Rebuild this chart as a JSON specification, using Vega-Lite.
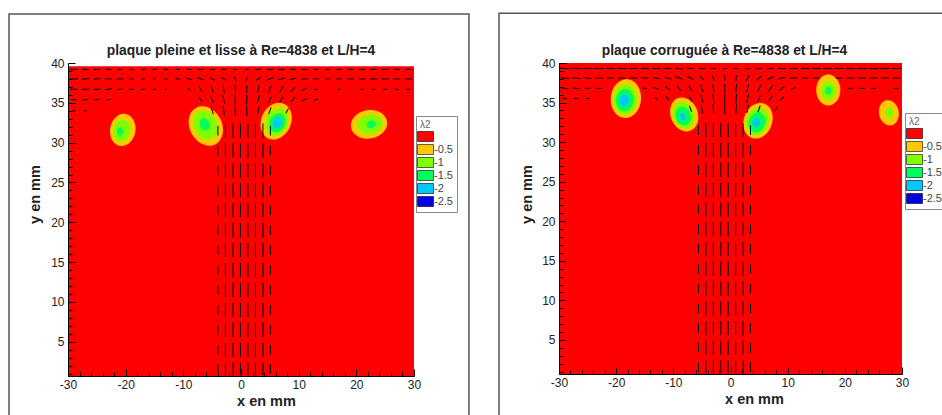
{
  "$schema": "https://vega.github.io/schema/vega-lite/v6.json",
  "padding": {"left": 8, "top": 12, "right": 0, "bottom": 0},
  "spacing": 28,
  "background": "#ffffff",
  "config": {
    "view": {"stroke": null},
    "axis": {"zindex": 2, "domainColor": "#000", "domainWidth": 1, "tickColor": "#000", "tickWidth": 1, "labelFont": "Liberation Sans", "labelFontSize": 12, "labelColor": "#222", "titleFont": "Liberation Sans", "titleFontSize": 14.5, "titleFontWeight": "bold", "titleColor": "#222", "grid": false, "labelOverlap": false, "labelFlush": false},
    "title": {"font": "Liberation Sans", "fontSize": 13.8, "fontWeight": "bold", "color": "#222", "anchor": "middle", "offset": -45, "baseline": "alphabetic"},
    "legend": {"symbolType": "M-1.6,-1H1.6V1H-1.6Z", "symbolSize": 100, "symbolStrokeColor": "#000", "symbolStrokeWidth": 0.6, "rowPadding": 0, "labelFont": "Liberation Sans", "labelFontSize": 11, "labelColor": "#444", "labelOffset": 3, "titleFont": "Liberation Sans", "titleFontSize": 10, "titleFontWeight": "normal", "titleColor": "#666", "titlePadding": 1, "padding": 4, "strokeColor": "#888", "fillColor": "#ffffff"}
  },
  "resolve": {"scale": {"color": "independent"}, "legend": {"color": "independent"}},
  "datasets": {
    "f1": [{"x": -40.23, "x2": 39.53, "y": -10, "y2": 46.16}],
    "f2": [{"x": -40.5, "x2": 55, "y": -10, "y2": 46.28}],
    "g1": [{"x": -30, "x2": 30, "y": 0.7, "y2": 39.6, "lv": "0"}],
    "g2": [{"x": -30, "x2": 30, "y": 0.7, "y2": 40, "lv": "0"}],
    "b1": [
      {"x": -20.5, "y": 31.6, "lv": "-0.5", "h": 4.1, "a": 10},
      {"x": -20.7, "y": 31.5, "lv": "-1", "h": 2.8, "a": 10},
      {"x": -21, "y": 31.4, "lv": "-1.5", "h": 1.0, "a": 0},
      {"x": -6.1, "y": 32.1, "lv": "-0.5", "h": 5.2, "a": -28},
      {"x": -6.2, "y": 32.2, "lv": "-1", "h": 3.8, "a": -28},
      {"x": -6.3, "y": 32.3, "lv": "-1.5", "h": 1.6, "a": -28},
      {"x": 6.1, "y": 32.7, "lv": "-0.5", "h": 4.8, "a": 25},
      {"x": 6.2, "y": 32.6, "lv": "-1", "h": 3.6, "a": 25},
      {"x": 6.3, "y": 32.5, "lv": "-1.5", "h": 2.5, "a": 25},
      {"x": 6.3, "y": 32.5, "lv": "-2", "h": 1.4, "a": 25},
      {"x": 22.2, "y": 32.3, "lv": "-0.5", "h": 4.6, "a": 80},
      {"x": 22.4, "y": 32.3, "lv": "-1", "h": 3.2, "a": 80},
      {"x": 22.6, "y": 32.3, "lv": "-1.5", "h": 1.2, "a": 80}
    ],
    "b2": [
      {"x": -18.3, "y": 35.5, "lv": "-0.5", "h": 4.9, "a": 5},
      {"x": -18.4, "y": 35.4, "lv": "-1", "h": 3.8, "a": 5},
      {"x": -18.5, "y": 35.3, "lv": "-1.5", "h": 2.8, "a": 5},
      {"x": -18.6, "y": 35.3, "lv": "-2", "h": 1.5, "a": 5},
      {"x": -8.1, "y": 33.5, "lv": "-0.5", "h": 4.4, "a": -20},
      {"x": -8.2, "y": 33.4, "lv": "-1", "h": 3.4, "a": -20},
      {"x": -8.3, "y": 33.3, "lv": "-1.5", "h": 2.4, "a": -20},
      {"x": -8.4, "y": 33.2, "lv": "-2", "h": 1.0, "a": -20},
      {"x": 4.8, "y": 32.7, "lv": "-0.5", "h": 4.6, "a": 20},
      {"x": 4.7, "y": 32.6, "lv": "-1", "h": 3.6, "a": 20},
      {"x": 4.6, "y": 32.5, "lv": "-1.5", "h": 2.6, "a": 20},
      {"x": 4.5, "y": 32.5, "lv": "-2", "h": 1.2, "a": 20},
      {"x": 17.1, "y": 36.6, "lv": "-0.5", "h": 3.9, "a": 0},
      {"x": 17.1, "y": 36.5, "lv": "-1", "h": 2.4, "a": 0},
      {"x": 17.1, "y": 36.5, "lv": "-1.5", "h": 1.0, "a": 0},
      {"x": 27.7, "y": 33.7, "lv": "-0.5", "h": 3.2, "a": -10},
      {"x": 27.8, "y": 33.7, "lv": "-1", "h": 1.4, "a": -10}
    ],
    "v1": [
      {"x": -29, "y": 39.2, "a": 0, "m": 0.9}, {"x": -27, "y": 39.2, "a": 0, "m": 0.9}, {"x": -25, "y": 39.2, "a": -5, "m": 0.8}, {"x": -23, "y": 39.2, "a": 0, "m": 0.8}, {"x": -21, "y": 39.2, "a": 0, "m": 0.6}, {"x": -19, "y": 39.2, "a": 0, "m": 0.5}, {"x": -17, "y": 39.2, "a": 0, "m": 0.5}, {"x": -15, "y": 39.2, "a": 0, "m": 0.6}, {"x": -13, "y": 39.2, "a": 5, "m": 0.6}, {"x": -11, "y": 39.2, "a": 0, "m": 0.5}, {"x": -9, "y": 39.2, "a": 5, "m": 0.6}, {"x": -7, "y": 39.2, "a": 5, "m": 0.7}, {"x": -5, "y": 39.2, "a": 0, "m": 0.7}, {"x": -3, "y": 39.2, "a": 0, "m": 0.6}, {"x": -1, "y": 39.2, "a": 0, "m": 0.5},
      {"x": 1, "y": 39.2, "a": 0, "m": 0.5}, {"x": 3, "y": 39.2, "a": -5, "m": 0.7}, {"x": 5, "y": 39.2, "a": -5, "m": 0.8}, {"x": 7, "y": 39.2, "a": 0, "m": 0.8}, {"x": 9, "y": 39.2, "a": 0, "m": 0.8}, {"x": 11, "y": 39.2, "a": 0, "m": 0.7}, {"x": 13, "y": 39.2, "a": 0, "m": 0.6}, {"x": 15, "y": 39.2, "a": 0, "m": 0.6}, {"x": 17, "y": 39.2, "a": 0, "m": 0.7}, {"x": 19, "y": 39.2, "a": 0, "m": 0.7}, {"x": 21, "y": 39.2, "a": 0, "m": 0.8}, {"x": 23, "y": 39.2, "a": 0, "m": 0.8}, {"x": 25, "y": 39.2, "a": 0, "m": 0.8}, {"x": 27, "y": 39.2, "a": 0, "m": 0.8}, {"x": 29, "y": 39.2, "a": 0, "m": 0.8},
      {"x": -29, "y": 38.0, "a": 0, "m": 1.0}, {"x": -27, "y": 38.0, "a": -5, "m": 1.0}, {"x": -25, "y": 38.0, "a": -5, "m": 0.9}, {"x": -23, "y": 38.0, "a": 0, "m": 0.9}, {"x": -21, "y": 38.0, "a": 0, "m": 0.8}, {"x": -19, "y": 38.0, "a": 0, "m": 0.5}, {"x": -17, "y": 38.0, "a": 0, "m": 0.4}, {"x": -15, "y": 38.0, "a": 0, "m": 0.4}, {"x": -13, "y": 38.0, "a": 0, "m": 0.5}, {"x": -11, "y": 38.0, "a": 10, "m": 0.6}, {"x": -9, "y": 38.0, "a": 15, "m": 0.7}, {"x": -7, "y": 38.0, "a": 20, "m": 0.8}, {"x": -5, "y": 38.0, "a": 25, "m": 0.8}, {"x": -3, "y": 38.0, "a": 35, "m": 0.7}, {"x": -1, "y": 38.0, "a": 60, "m": 0.6},
      {"x": 1, "y": 38.0, "a": 120, "m": 0.6}, {"x": 3, "y": 38.0, "a": 150, "m": 0.8}, {"x": 5, "y": 38.0, "a": 160, "m": 0.9}, {"x": 7, "y": 38.0, "a": 165, "m": 0.9}, {"x": 9, "y": 38.0, "a": 170, "m": 0.9}, {"x": 11, "y": 38.0, "a": 0, "m": 0.8}, {"x": 13, "y": 38.0, "a": 0, "m": 0.7}, {"x": 15, "y": 38.0, "a": 0, "m": 0.6}, {"x": 17, "y": 38.0, "a": 0, "m": 0.7}, {"x": 19, "y": 38.0, "a": 0, "m": 0.8}, {"x": 21, "y": 38.0, "a": 0, "m": 0.8}, {"x": 23, "y": 38.0, "a": 0, "m": 0.9}, {"x": 25, "y": 38.0, "a": 0, "m": 0.9}, {"x": 27, "y": 38.0, "a": 0, "m": 0.9}, {"x": 29, "y": 38.0, "a": 0, "m": 0.9},
      {"x": -29, "y": 36.7, "a": 0, "m": 0.9}, {"x": -27, "y": 36.7, "a": -5, "m": 0.9}, {"x": -25, "y": 36.7, "a": -5, "m": 0.9}, {"x": -23, "y": 36.7, "a": -10, "m": 0.8}, {"x": -21, "y": 36.7, "a": -5, "m": 0.7}, {"x": -19, "y": 36.7, "a": 0, "m": 0.6}, {"x": -17, "y": 36.7, "a": 0, "m": 0.5}, {"x": -15, "y": 36.7, "a": 0, "m": 0.4}, {"x": -13, "y": 36.7, "a": 20, "m": 0.3}, {"x": -9, "y": 36.7, "a": 45, "m": 0.5}, {"x": -7, "y": 36.7, "a": 60, "m": 0.8}, {"x": -5, "y": 36.7, "a": 70, "m": 0.9}, {"x": -3, "y": 36.7, "a": 80, "m": 1.0}, {"x": -1, "y": 36.7, "a": 88, "m": 1.0},
      {"x": 1, "y": 36.7, "a": 92, "m": 1.0}, {"x": 3, "y": 36.7, "a": 100, "m": 1.0}, {"x": 5, "y": 36.7, "a": 110, "m": 0.9}, {"x": 7, "y": 36.7, "a": 120, "m": 0.9}, {"x": 9, "y": 36.7, "a": 135, "m": 0.8}, {"x": 11, "y": 36.7, "a": 150, "m": 0.7}, {"x": 13, "y": 36.7, "a": 170, "m": 0.5}, {"x": 17, "y": 36.7, "a": 0, "m": 0.4}, {"x": 21, "y": 36.7, "a": 0, "m": 0.5}, {"x": 23, "y": 36.7, "a": 0, "m": 0.5}, {"x": 25, "y": 36.7, "a": 0, "m": 0.5}, {"x": 27, "y": 36.7, "a": 0, "m": 0.5}, {"x": 29, "y": 36.7, "a": 0, "m": 0.5},
      {"x": -29, "y": 35.4, "a": 0, "m": 0.7}, {"x": -27, "y": 35.4, "a": -5, "m": 0.7}, {"x": -25, "y": 35.4, "a": -10, "m": 0.6}, {"x": -23, "y": 35.4, "a": -15, "m": 0.5}, {"x": -7, "y": 35.4, "a": 55, "m": 0.7}, {"x": -5, "y": 35.4, "a": 65, "m": 0.9}, {"x": -3, "y": 35.4, "a": 75, "m": 1.1}, {"x": -1, "y": 35.4, "a": 88, "m": 1.2}, {"x": 1, "y": 35.4, "a": 92, "m": 1.2}, {"x": 3, "y": 35.4, "a": 105, "m": 1.1}, {"x": 5, "y": 35.4, "a": 115, "m": 0.9}, {"x": 7, "y": 35.4, "a": 125, "m": 0.8}, {"x": 9, "y": 35.4, "a": 130, "m": 0.8}, {"x": 11, "y": 35.4, "a": 145, "m": 0.7}, {"x": 13, "y": 35.4, "a": 160, "m": 0.5},
      {"x": -29, "y": 34.0, "a": 0, "m": 0.4}, {"x": -27, "y": 34.0, "a": 0, "m": 0.4}, {"x": -5, "y": 34.0, "a": 70, "m": 0.9}, {"x": -3, "y": 34.0, "a": 80, "m": 1.1}, {"x": -1, "y": 34.0, "a": 88, "m": 1.3}, {"x": 1, "y": 34.0, "a": 90, "m": 1.3}, {"x": 3, "y": 34.0, "a": 100, "m": 1.1}, {"x": 5, "y": 34.0, "a": 110, "m": 0.9}, {"x": 8, "y": 34.0, "a": 120, "m": 0.7},
      {"x": -4.0, "y": 31.5, "a": 90, "m": 1.2}, {"x": -2.7, "y": 31.5, "a": 90, "m": 1.8}, {"x": -1.4, "y": 31.5, "a": 90, "m": 1.8}, {"x": -0.1, "y": 31.5, "a": 90, "m": 1.8}, {"x": 1.2, "y": 31.5, "a": 90, "m": 1.8}, {"x": 2.5, "y": 31.5, "a": 90, "m": 1.8}, {"x": 3.8, "y": 31.5, "a": 90, "m": 1.8}, {"x": 5.1, "y": 31.5, "a": 90, "m": 1.2},
      {"x": -4.0, "y": 29, "a": 90, "m": 1.2}, {"x": -2.7, "y": 29, "a": 90, "m": 1.8}, {"x": -1.4, "y": 29, "a": 90, "m": 1.8}, {"x": -0.1, "y": 29, "a": 90, "m": 1.8}, {"x": 1.2, "y": 29, "a": 90, "m": 1.8}, {"x": 2.5, "y": 29, "a": 90, "m": 1.8}, {"x": 3.8, "y": 29, "a": 90, "m": 1.8}, {"x": 5.1, "y": 29, "a": 90, "m": 1.2},
      {"x": -4.0, "y": 26.5, "a": 90, "m": 1.2}, {"x": -2.7, "y": 26.5, "a": 90, "m": 1.8}, {"x": -1.4, "y": 26.5, "a": 90, "m": 1.8}, {"x": -0.1, "y": 26.5, "a": 90, "m": 1.8}, {"x": 1.2, "y": 26.5, "a": 90, "m": 1.8}, {"x": 2.5, "y": 26.5, "a": 90, "m": 1.8}, {"x": 3.8, "y": 26.5, "a": 90, "m": 1.8}, {"x": 5.1, "y": 26.5, "a": 90, "m": 1.2},
      {"x": -4.0, "y": 24, "a": 90, "m": 1.2}, {"x": -2.7, "y": 24, "a": 90, "m": 1.8}, {"x": -1.4, "y": 24, "a": 90, "m": 1.8}, {"x": -0.1, "y": 24, "a": 90, "m": 1.8}, {"x": 1.2, "y": 24, "a": 90, "m": 1.8}, {"x": 2.5, "y": 24, "a": 90, "m": 1.8}, {"x": 3.8, "y": 24, "a": 90, "m": 1.8}, {"x": 5.1, "y": 24, "a": 90, "m": 1.2},
      {"x": -4.0, "y": 21.5, "a": 90, "m": 1.2}, {"x": -2.7, "y": 21.5, "a": 90, "m": 1.8}, {"x": -1.4, "y": 21.5, "a": 90, "m": 1.8}, {"x": -0.1, "y": 21.5, "a": 90, "m": 1.8}, {"x": 1.2, "y": 21.5, "a": 90, "m": 1.8}, {"x": 2.5, "y": 21.5, "a": 90, "m": 1.8}, {"x": 3.8, "y": 21.5, "a": 90, "m": 1.8}, {"x": 5.1, "y": 21.5, "a": 90, "m": 1.2},
      {"x": -4.0, "y": 19, "a": 90, "m": 1.2}, {"x": -2.7, "y": 19, "a": 90, "m": 1.8}, {"x": -1.4, "y": 19, "a": 90, "m": 1.8}, {"x": -0.1, "y": 19, "a": 90, "m": 1.8}, {"x": 1.2, "y": 19, "a": 90, "m": 1.8}, {"x": 2.5, "y": 19, "a": 90, "m": 1.8}, {"x": 3.8, "y": 19, "a": 90, "m": 1.8}, {"x": 5.1, "y": 19, "a": 90, "m": 1.2},
      {"x": -4.0, "y": 16.5, "a": 90, "m": 1.2}, {"x": -2.7, "y": 16.5, "a": 90, "m": 1.8}, {"x": -1.4, "y": 16.5, "a": 90, "m": 1.8}, {"x": -0.1, "y": 16.5, "a": 90, "m": 1.8}, {"x": 1.2, "y": 16.5, "a": 90, "m": 1.8}, {"x": 2.5, "y": 16.5, "a": 90, "m": 1.8}, {"x": 3.8, "y": 16.5, "a": 90, "m": 1.8}, {"x": 5.1, "y": 16.5, "a": 90, "m": 1.2},
      {"x": -4.0, "y": 14, "a": 90, "m": 1.2}, {"x": -2.7, "y": 14, "a": 90, "m": 1.8}, {"x": -1.4, "y": 14, "a": 90, "m": 1.8}, {"x": -0.1, "y": 14, "a": 90, "m": 1.8}, {"x": 1.2, "y": 14, "a": 90, "m": 1.8}, {"x": 2.5, "y": 14, "a": 90, "m": 1.8}, {"x": 3.8, "y": 14, "a": 90, "m": 1.8}, {"x": 5.1, "y": 14, "a": 90, "m": 1.2},
      {"x": -4.0, "y": 11.5, "a": 90, "m": 1.2}, {"x": -2.7, "y": 11.5, "a": 90, "m": 1.8}, {"x": -1.4, "y": 11.5, "a": 90, "m": 1.8}, {"x": -0.1, "y": 11.5, "a": 90, "m": 1.8}, {"x": 1.2, "y": 11.5, "a": 90, "m": 1.8}, {"x": 2.5, "y": 11.5, "a": 90, "m": 1.8}, {"x": 3.8, "y": 11.5, "a": 90, "m": 1.8}, {"x": 5.1, "y": 11.5, "a": 90, "m": 1.2},
      {"x": -4.0, "y": 9, "a": 90, "m": 1.2}, {"x": -2.7, "y": 9, "a": 90, "m": 1.8}, {"x": -1.4, "y": 9, "a": 90, "m": 1.8}, {"x": -0.1, "y": 9, "a": 90, "m": 1.8}, {"x": 1.2, "y": 9, "a": 90, "m": 1.8}, {"x": 2.5, "y": 9, "a": 90, "m": 1.8}, {"x": 3.8, "y": 9, "a": 90, "m": 1.8}, {"x": 5.1, "y": 9, "a": 90, "m": 1.2},
      {"x": -4.0, "y": 6.5, "a": 90, "m": 1.2}, {"x": -2.7, "y": 6.5, "a": 90, "m": 1.8}, {"x": -1.4, "y": 6.5, "a": 90, "m": 1.8}, {"x": -0.1, "y": 6.5, "a": 90, "m": 1.8}, {"x": 1.2, "y": 6.5, "a": 90, "m": 1.8}, {"x": 2.5, "y": 6.5, "a": 90, "m": 1.8}, {"x": 3.8, "y": 6.5, "a": 90, "m": 1.8}, {"x": 5.1, "y": 6.5, "a": 90, "m": 1.2},
      {"x": -4.0, "y": 4, "a": 90, "m": 1.2}, {"x": -2.7, "y": 4, "a": 90, "m": 1.8}, {"x": -1.4, "y": 4, "a": 90, "m": 1.8}, {"x": -0.1, "y": 4, "a": 90, "m": 1.8}, {"x": 1.2, "y": 4, "a": 90, "m": 1.8}, {"x": 2.5, "y": 4, "a": 90, "m": 1.8}, {"x": 3.8, "y": 4, "a": 90, "m": 1.8}, {"x": 5.1, "y": 4, "a": 90, "m": 1.2},
      {"x": -4.0, "y": 1.6, "a": 90, "m": 1.2}, {"x": -2.7, "y": 1.6, "a": 90, "m": 1.6}, {"x": -1.4, "y": 1.6, "a": 90, "m": 1.6}, {"x": -0.1, "y": 1.6, "a": 90, "m": 1.6}, {"x": 1.2, "y": 1.6, "a": 90, "m": 1.6}, {"x": 2.5, "y": 1.6, "a": 90, "m": 1.6}, {"x": 3.8, "y": 1.6, "a": 90, "m": 1.6}, {"x": 5.1, "y": 1.6, "a": 90, "m": 1.2}
    ],
    "v2": [
      {"x": -29, "y": 39.3, "a": 3, "m": 1.4}, {"x": -27, "y": 39.3, "a": 3, "m": 1.4}, {"x": -25, "y": 39.3, "a": 3, "m": 1.3}, {"x": -23, "y": 39.3, "a": 0, "m": 1.3}, {"x": -21, "y": 39.3, "a": 0, "m": 1.2}, {"x": -19, "y": 39.3, "a": 0, "m": 1.2}, {"x": -17, "y": 39.3, "a": 0, "m": 1.2}, {"x": -15, "y": 39.3, "a": 0, "m": 1.1}, {"x": -13, "y": 39.3, "a": 0, "m": 1.1}, {"x": -11, "y": 39.3, "a": 0, "m": 1.0}, {"x": -9, "y": 39.3, "a": 5, "m": 1.0}, {"x": -7, "y": 39.3, "a": 5, "m": 0.9}, {"x": -5, "y": 39.3, "a": 5, "m": 0.8}, {"x": -3, "y": 39.3, "a": 0, "m": 0.7}, {"x": -1, "y": 39.3, "a": 0, "m": 0.6},
      {"x": 1, "y": 39.3, "a": 0, "m": 0.6}, {"x": 3, "y": 39.3, "a": -5, "m": 0.7}, {"x": 5, "y": 39.3, "a": -5, "m": 0.8}, {"x": 7, "y": 39.3, "a": -5, "m": 0.9}, {"x": 9, "y": 39.3, "a": 0, "m": 1.0}, {"x": 11, "y": 39.3, "a": 0, "m": 1.1}, {"x": 13, "y": 39.3, "a": 0, "m": 1.1}, {"x": 15, "y": 39.3, "a": 0, "m": 1.2}, {"x": 17, "y": 39.3, "a": 0, "m": 1.2}, {"x": 19, "y": 39.3, "a": 0, "m": 1.2}, {"x": 21, "y": 39.3, "a": 0, "m": 1.2}, {"x": 23, "y": 39.3, "a": 0, "m": 1.3}, {"x": 25, "y": 39.3, "a": 0, "m": 1.3}, {"x": 27, "y": 39.3, "a": 0, "m": 1.3}, {"x": 29, "y": 39.3, "a": 0, "m": 1.3},
      {"x": -29, "y": 38.1, "a": 5, "m": 1.1}, {"x": -27, "y": 38.1, "a": 5, "m": 1.1}, {"x": -25, "y": 38.1, "a": 5, "m": 1.0}, {"x": -23, "y": 38.1, "a": 0, "m": 1.0}, {"x": -21, "y": 38.1, "a": 0, "m": 0.9}, {"x": -19, "y": 38.1, "a": 0, "m": 0.9}, {"x": -17, "y": 38.1, "a": 0, "m": 0.9}, {"x": -15, "y": 38.1, "a": 5, "m": 0.9}, {"x": -13, "y": 38.1, "a": 10, "m": 0.9}, {"x": -11, "y": 38.1, "a": 15, "m": 0.9}, {"x": -9, "y": 38.1, "a": 20, "m": 0.9}, {"x": -7, "y": 38.1, "a": 30, "m": 0.8}, {"x": -5, "y": 38.1, "a": 45, "m": 0.8}, {"x": -3, "y": 38.1, "a": 65, "m": 0.7}, {"x": -1, "y": 38.1, "a": 85, "m": 0.7},
      {"x": 1, "y": 38.1, "a": 100, "m": 0.7}, {"x": 3, "y": 38.1, "a": 120, "m": 0.8}, {"x": 5, "y": 38.1, "a": 140, "m": 0.8}, {"x": 7, "y": 38.1, "a": 155, "m": 0.9}, {"x": 9, "y": 38.1, "a": 165, "m": 0.9}, {"x": 11, "y": 38.1, "a": 175, "m": 0.9}, {"x": 13, "y": 38.1, "a": 0, "m": 0.9}, {"x": 15, "y": 38.1, "a": 0, "m": 0.9}, {"x": 19, "y": 38.1, "a": 0, "m": 0.9}, {"x": 21, "y": 38.1, "a": 0, "m": 1.0}, {"x": 23, "y": 38.1, "a": 0, "m": 1.0}, {"x": 25, "y": 38.1, "a": 0, "m": 1.0}, {"x": 27, "y": 38.1, "a": 0, "m": 1.0}, {"x": 29, "y": 38.1, "a": 0, "m": 1.0},
      {"x": -29, "y": 36.8, "a": 5, "m": 0.9}, {"x": -27, "y": 36.8, "a": 5, "m": 0.9}, {"x": -25, "y": 36.8, "a": 0, "m": 0.8}, {"x": -23, "y": 36.8, "a": 0, "m": 0.7}, {"x": -15, "y": 36.8, "a": 10, "m": 0.6}, {"x": -13, "y": 36.8, "a": 20, "m": 0.7}, {"x": -11, "y": 36.8, "a": 35, "m": 0.8}, {"x": -9, "y": 36.8, "a": 50, "m": 0.8}, {"x": -7, "y": 36.8, "a": 60, "m": 0.9}, {"x": -5, "y": 36.8, "a": 70, "m": 1.0}, {"x": -3, "y": 36.8, "a": 80, "m": 1.0}, {"x": -1, "y": 36.8, "a": 88, "m": 1.1},
      {"x": 1, "y": 36.8, "a": 95, "m": 1.1}, {"x": 3, "y": 36.8, "a": 105, "m": 1.0}, {"x": 5, "y": 36.8, "a": 115, "m": 1.0}, {"x": 7, "y": 36.8, "a": 125, "m": 0.9}, {"x": 9, "y": 36.8, "a": 140, "m": 0.8}, {"x": 11, "y": 36.8, "a": 155, "m": 0.7}, {"x": 21, "y": 36.8, "a": 0, "m": 0.7}, {"x": 23, "y": 36.8, "a": 0, "m": 0.7}, {"x": 25, "y": 36.8, "a": 0, "m": 0.7}, {"x": 29, "y": 36.8, "a": 0, "m": 0.6},
      {"x": -29, "y": 35.5, "a": 10, "m": 0.6}, {"x": -27, "y": 35.5, "a": 10, "m": 0.6}, {"x": -25, "y": 35.5, "a": 10, "m": 0.5}, {"x": -13, "y": 35.5, "a": 40, "m": 0.5}, {"x": -11, "y": 35.5, "a": 55, "m": 0.6}, {"x": -7, "y": 35.5, "a": 65, "m": 0.9}, {"x": -5, "y": 35.5, "a": 75, "m": 1.1}, {"x": -3, "y": 35.5, "a": 82, "m": 1.2}, {"x": -1, "y": 35.5, "a": 90, "m": 1.2}, {"x": 1, "y": 35.5, "a": 95, "m": 1.2}, {"x": 3, "y": 35.5, "a": 105, "m": 1.1}, {"x": 5, "y": 35.5, "a": 115, "m": 0.9}, {"x": 7, "y": 35.5, "a": 125, "m": 0.8}, {"x": 9, "y": 35.5, "a": 135, "m": 0.7},
      {"x": -7, "y": 34.2, "a": 70, "m": 0.8}, {"x": -5, "y": 34.2, "a": 78, "m": 1.1}, {"x": -3, "y": 34.2, "a": 85, "m": 1.3}, {"x": -1, "y": 34.2, "a": 90, "m": 1.3}, {"x": 1, "y": 34.2, "a": 95, "m": 1.3}, {"x": 3, "y": 34.2, "a": 100, "m": 1.1}, {"x": 5, "y": 34.2, "a": 110, "m": 0.9}, {"x": 8, "y": 34.2, "a": 120, "m": 0.7},
      {"x": -5.6, "y": 31.5, "a": 90, "m": 1.2}, {"x": -4.3, "y": 31.5, "a": 90, "m": 1.8}, {"x": -3.0, "y": 31.5, "a": 90, "m": 1.8}, {"x": -1.7, "y": 31.5, "a": 90, "m": 1.8}, {"x": -0.4, "y": 31.5, "a": 90, "m": 1.8}, {"x": 0.9, "y": 31.5, "a": 90, "m": 1.8}, {"x": 2.2, "y": 31.5, "a": 90, "m": 1.8}, {"x": 3.5, "y": 31.5, "a": 90, "m": 1.2},
      {"x": -5.6, "y": 29, "a": 90, "m": 1.2}, {"x": -4.3, "y": 29, "a": 90, "m": 1.8}, {"x": -3.0, "y": 29, "a": 90, "m": 1.8}, {"x": -1.7, "y": 29, "a": 90, "m": 1.8}, {"x": -0.4, "y": 29, "a": 90, "m": 1.8}, {"x": 0.9, "y": 29, "a": 90, "m": 1.8}, {"x": 2.2, "y": 29, "a": 90, "m": 1.8}, {"x": 3.5, "y": 29, "a": 90, "m": 1.2},
      {"x": -5.6, "y": 26.5, "a": 90, "m": 1.2}, {"x": -4.3, "y": 26.5, "a": 90, "m": 1.8}, {"x": -3.0, "y": 26.5, "a": 90, "m": 1.8}, {"x": -1.7, "y": 26.5, "a": 90, "m": 1.8}, {"x": -0.4, "y": 26.5, "a": 90, "m": 1.8}, {"x": 0.9, "y": 26.5, "a": 90, "m": 1.8}, {"x": 2.2, "y": 26.5, "a": 90, "m": 1.8}, {"x": 3.5, "y": 26.5, "a": 90, "m": 1.2},
      {"x": -5.6, "y": 24, "a": 90, "m": 1.2}, {"x": -4.3, "y": 24, "a": 90, "m": 1.8}, {"x": -3.0, "y": 24, "a": 90, "m": 1.8}, {"x": -1.7, "y": 24, "a": 90, "m": 1.8}, {"x": -0.4, "y": 24, "a": 90, "m": 1.8}, {"x": 0.9, "y": 24, "a": 90, "m": 1.8}, {"x": 2.2, "y": 24, "a": 90, "m": 1.8}, {"x": 3.5, "y": 24, "a": 90, "m": 1.2},
      {"x": -5.6, "y": 21.5, "a": 90, "m": 1.2}, {"x": -4.3, "y": 21.5, "a": 90, "m": 1.8}, {"x": -3.0, "y": 21.5, "a": 90, "m": 1.8}, {"x": -1.7, "y": 21.5, "a": 90, "m": 1.8}, {"x": -0.4, "y": 21.5, "a": 90, "m": 1.8}, {"x": 0.9, "y": 21.5, "a": 90, "m": 1.8}, {"x": 2.2, "y": 21.5, "a": 90, "m": 1.8}, {"x": 3.5, "y": 21.5, "a": 90, "m": 1.2},
      {"x": -5.6, "y": 19, "a": 90, "m": 1.2}, {"x": -4.3, "y": 19, "a": 90, "m": 1.8}, {"x": -3.0, "y": 19, "a": 90, "m": 1.8}, {"x": -1.7, "y": 19, "a": 90, "m": 1.8}, {"x": -0.4, "y": 19, "a": 90, "m": 1.8}, {"x": 0.9, "y": 19, "a": 90, "m": 1.8}, {"x": 2.2, "y": 19, "a": 90, "m": 1.8}, {"x": 3.5, "y": 19, "a": 90, "m": 1.2},
      {"x": -5.6, "y": 16.5, "a": 90, "m": 1.2}, {"x": -4.3, "y": 16.5, "a": 90, "m": 1.8}, {"x": -3.0, "y": 16.5, "a": 90, "m": 1.8}, {"x": -1.7, "y": 16.5, "a": 90, "m": 1.8}, {"x": -0.4, "y": 16.5, "a": 90, "m": 1.8}, {"x": 0.9, "y": 16.5, "a": 90, "m": 1.8}, {"x": 2.2, "y": 16.5, "a": 90, "m": 1.8}, {"x": 3.5, "y": 16.5, "a": 90, "m": 1.2},
      {"x": -5.6, "y": 14, "a": 90, "m": 1.2}, {"x": -4.3, "y": 14, "a": 90, "m": 1.8}, {"x": -3.0, "y": 14, "a": 90, "m": 1.8}, {"x": -1.7, "y": 14, "a": 90, "m": 1.8}, {"x": -0.4, "y": 14, "a": 90, "m": 1.8}, {"x": 0.9, "y": 14, "a": 90, "m": 1.8}, {"x": 2.2, "y": 14, "a": 90, "m": 1.8}, {"x": 3.5, "y": 14, "a": 90, "m": 1.2},
      {"x": -5.6, "y": 11.5, "a": 90, "m": 1.2}, {"x": -4.3, "y": 11.5, "a": 90, "m": 1.8}, {"x": -3.0, "y": 11.5, "a": 90, "m": 1.8}, {"x": -1.7, "y": 11.5, "a": 90, "m": 1.8}, {"x": -0.4, "y": 11.5, "a": 90, "m": 1.8}, {"x": 0.9, "y": 11.5, "a": 90, "m": 1.8}, {"x": 2.2, "y": 11.5, "a": 90, "m": 1.8}, {"x": 3.5, "y": 11.5, "a": 90, "m": 1.2},
      {"x": -5.6, "y": 9, "a": 90, "m": 1.2}, {"x": -4.3, "y": 9, "a": 90, "m": 1.8}, {"x": -3.0, "y": 9, "a": 90, "m": 1.8}, {"x": -1.7, "y": 9, "a": 90, "m": 1.8}, {"x": -0.4, "y": 9, "a": 90, "m": 1.8}, {"x": 0.9, "y": 9, "a": 90, "m": 1.8}, {"x": 2.2, "y": 9, "a": 90, "m": 1.8}, {"x": 3.5, "y": 9, "a": 90, "m": 1.2},
      {"x": -5.6, "y": 6.5, "a": 90, "m": 1.2}, {"x": -4.3, "y": 6.5, "a": 90, "m": 1.8}, {"x": -3.0, "y": 6.5, "a": 90, "m": 1.8}, {"x": -1.7, "y": 6.5, "a": 90, "m": 1.8}, {"x": -0.4, "y": 6.5, "a": 90, "m": 1.8}, {"x": 0.9, "y": 6.5, "a": 90, "m": 1.8}, {"x": 2.2, "y": 6.5, "a": 90, "m": 1.8}, {"x": 3.5, "y": 6.5, "a": 90, "m": 1.2},
      {"x": -5.6, "y": 4, "a": 90, "m": 1.2}, {"x": -4.3, "y": 4, "a": 90, "m": 1.8}, {"x": -3.0, "y": 4, "a": 90, "m": 1.8}, {"x": -1.7, "y": 4, "a": 90, "m": 1.8}, {"x": -0.4, "y": 4, "a": 90, "m": 1.8}, {"x": 0.9, "y": 4, "a": 90, "m": 1.8}, {"x": 2.2, "y": 4, "a": 90, "m": 1.8}, {"x": 3.5, "y": 4, "a": 90, "m": 1.2},
      {"x": -5.6, "y": 1.6, "a": 90, "m": 1.2}, {"x": -4.3, "y": 1.6, "a": 90, "m": 1.6}, {"x": -3.0, "y": 1.6, "a": 90, "m": 1.6}, {"x": -1.7, "y": 1.6, "a": 90, "m": 1.6}, {"x": -0.4, "y": 1.6, "a": 90, "m": 1.6}, {"x": 0.9, "y": 1.6, "a": 90, "m": 1.6}, {"x": 2.2, "y": 1.6, "a": 90, "m": 1.6}, {"x": 3.5, "y": 1.6, "a": 90, "m": 1.2}
    ]
  },
  "hconcat": [
    {
      "width": 346,
      "height": 313,
      "title": {"text": "plaque pleine et lisse à Re=4838 et L/H=4"},
      "encoding": {
        "x": {"field": "x", "type": "quantitative", "scale": {"domain": [-30, 30], "nice": false, "zero": false},
          "axis": {"zindex": 2, "title": "x en mm", "values": [-30,-28,-26,-24,-22,-20,-18,-16,-14,-12,-10,-8,-6,-4,-2,0,2,4,6,8,10,12,14,16,18,20,22,24,26,28,30],
            "labelExpr": "datum.value % 10 === 0 ? '' + datum.value : ''",
            "tickSize": {"condition": {"test": "datum.value % 10 === 0", "value": -7}, "value": -4},
            "labelPadding": 10, "titleX": 198, "titleY": 29, "titleBaseline": "alphabetic", "titleAlign": "center"}},
        "y": {"field": "y", "type": "quantitative", "scale": {"domain": [0.7, 40], "nice": false, "zero": false},
          "axis": {"zindex": 2, "title": "y en mm", "values": [1,2,3,4,5,6,7,8,9,10,11,12,13,14,15,16,17,18,19,20,21,22,23,24,25,26,27,28,29,30,31,32,33,34,35,36,37,38,39,40],
            "labelExpr": "datum.value % 5 === 0 ? '' + datum.value : ''",
            "tickSize": {"condition": {"test": "datum.value % 5 === 0", "value": -7}, "value": -4},
            "labelPadding": 11, "titleX": -29, "titleY": 131, "titleBaseline": "alphabetic", "titleAlign": "center", "titleAngle": -90}}
      },
      "layer": [
        {"data": {"name": "f1"}, "mark": {"type": "rect", "fill": null, "stroke": "#555555", "strokeWidth": 1.5}, "encoding": {"x2": {"field": "x2"}, "y2": {"field": "y2"}}},
        {"data": {"name": "g1"}, "mark": {"type": "rect"}, "encoding": {"x2": {"field": "x2"}, "y2": {"field": "y2"},
          "color": {"field": "lv", "type": "nominal", "scale": {"domain": ["0","-0.5","-1","-1.5","-2","-2.5"], "range": ["#ff0000","#ffc800","#80ff00","#00ff5a","#00c8ff","#0000e6"]},
            "legend": {"title": "λ2", "orient": "none", "legendX": 348, "legendY": 53, "labelExpr": "datum.value === '0' ? '' : datum.value"}}}},
        {"data": {"name": "b1"}, "mark": {"type": "point", "shape": "M0,-1C0.43,-1,0.78,-0.552,0.78,0C0.78,0.552,0.43,1,0,1C-0.43,1,-0.78,0.552,-0.78,0C-0.78,-0.552,-0.43,-1,0,-1Z", "filled": true, "opacity": 1, "strokeWidth": 0},
          "encoding": {
            "color": {"field": "lv", "type": "nominal", "scale": {"domain": ["0","-0.5","-1","-1.5","-2","-2.5"], "range": ["#ff0000","#ffc800","#80ff00","#00ff5a","#00c8ff","#0000e6"]},
              "legend": {"title": "λ2", "orient": "none", "legendX": 348, "legendY": 53, "labelExpr": "datum.value === '0' ? '' : datum.value"}},
            "size": {"field": "h", "type": "quantitative", "scale": {"type": "pow", "exponent": 2, "domain": [0, 10], "range": [0, 6300]}, "legend": null},
            "angle": {"field": "a", "type": "quantitative", "scale": null}}},
        {"data": {"name": "v1"}, "mark": {"type": "point", "shape": "stroke", "filled": false, "color": "#000000", "strokeWidth": 1, "opacity": 1},
          "encoding": {
            "size": {"field": "m", "type": "quantitative", "scale": {"type": "pow", "exponent": 2, "domain": [0, 10], "range": [0, 6300]}, "legend": null},
            "angle": {"field": "a", "type": "quantitative", "scale": null}}}
      ]
    },
    {
      "width": 343,
      "height": 311,
      "title": {"text": "plaque corruguée à Re=4838 et L/H=4", "dx": -6},
      "encoding": {
        "x": {"field": "x", "type": "quantitative", "scale": {"domain": [-30, 30], "nice": false, "zero": false},
          "axis": {"zindex": 2, "title": "x en mm", "values": [-30,-28,-26,-24,-22,-20,-18,-16,-14,-12,-10,-8,-6,-4,-2,0,2,4,6,8,10,12,14,16,18,20,22,24,26,28,30],
            "labelExpr": "datum.value % 10 === 0 ? '' + datum.value : ''",
            "tickSize": {"condition": {"test": "datum.value % 10 === 0", "value": -7}, "value": -4},
            "labelPadding": 10, "titleX": 195, "titleY": 29, "titleBaseline": "alphabetic", "titleAlign": "center"}},
        "y": {"field": "y", "type": "quantitative", "scale": {"domain": [0.7, 40], "nice": false, "zero": false},
          "axis": {"zindex": 2, "title": "y en mm", "values": [1,2,3,4,5,6,7,8,9,10,11,12,13,14,15,16,17,18,19,20,21,22,23,24,25,26,27,28,29,30,31,32,33,34,35,36,37,38,39,40],
            "labelExpr": "datum.value % 5 === 0 ? '' + datum.value : ''",
            "tickSize": {"condition": {"test": "datum.value % 5 === 0", "value": -7}, "value": -4},
            "labelPadding": 11, "titleX": -28, "titleY": 131, "titleBaseline": "alphabetic", "titleAlign": "center", "titleAngle": -90}}
      },
      "layer": [
        {"data": {"name": "f2"}, "mark": {"type": "rect", "fill": null, "stroke": "#555555", "strokeWidth": 1.5}, "encoding": {"x2": {"field": "x2"}, "y2": {"field": "y2"}}},
        {"data": {"name": "g2"}, "mark": {"type": "rect"}, "encoding": {"x2": {"field": "x2"}, "y2": {"field": "y2"},
          "color": {"field": "lv", "type": "nominal", "scale": {"domain": ["0","-0.5","-1","-1.5","-2","-2.5"], "range": ["#ff0000","#ffc800","#80ff00","#00ff5a","#00c8ff","#0000e6"]},
            "legend": {"title": "λ2", "orient": "none", "legendX": 346, "legendY": 50, "labelExpr": "datum.value === '0' ? '' : datum.value"}}}},
        {"data": {"name": "b2"}, "mark": {"type": "point", "shape": "M0,-1C0.43,-1,0.78,-0.552,0.78,0C0.78,0.552,0.43,1,0,1C-0.43,1,-0.78,0.552,-0.78,0C-0.78,-0.552,-0.43,-1,0,-1Z", "filled": true, "opacity": 1, "strokeWidth": 0},
          "encoding": {
            "color": {"field": "lv", "type": "nominal", "scale": {"domain": ["0","-0.5","-1","-1.5","-2","-2.5"], "range": ["#ff0000","#ffc800","#80ff00","#00ff5a","#00c8ff","#0000e6"]},
              "legend": {"title": "λ2", "orient": "none", "legendX": 346, "legendY": 50, "labelExpr": "datum.value === '0' ? '' : datum.value"}},
            "size": {"field": "h", "type": "quantitative", "scale": {"type": "pow", "exponent": 2, "domain": [0, 10], "range": [0, 6300]}, "legend": null},
            "angle": {"field": "a", "type": "quantitative", "scale": null}}},
        {"data": {"name": "v2"}, "mark": {"type": "point", "shape": "stroke", "filled": false, "color": "#000000", "strokeWidth": 1, "opacity": 1},
          "encoding": {
            "size": {"field": "m", "type": "quantitative", "scale": {"type": "pow", "exponent": 2, "domain": [0, 10], "range": [0, 6300]}, "legend": null},
            "angle": {"field": "a", "type": "quantitative", "scale": null}}}
      ]
    }
  ]
}
